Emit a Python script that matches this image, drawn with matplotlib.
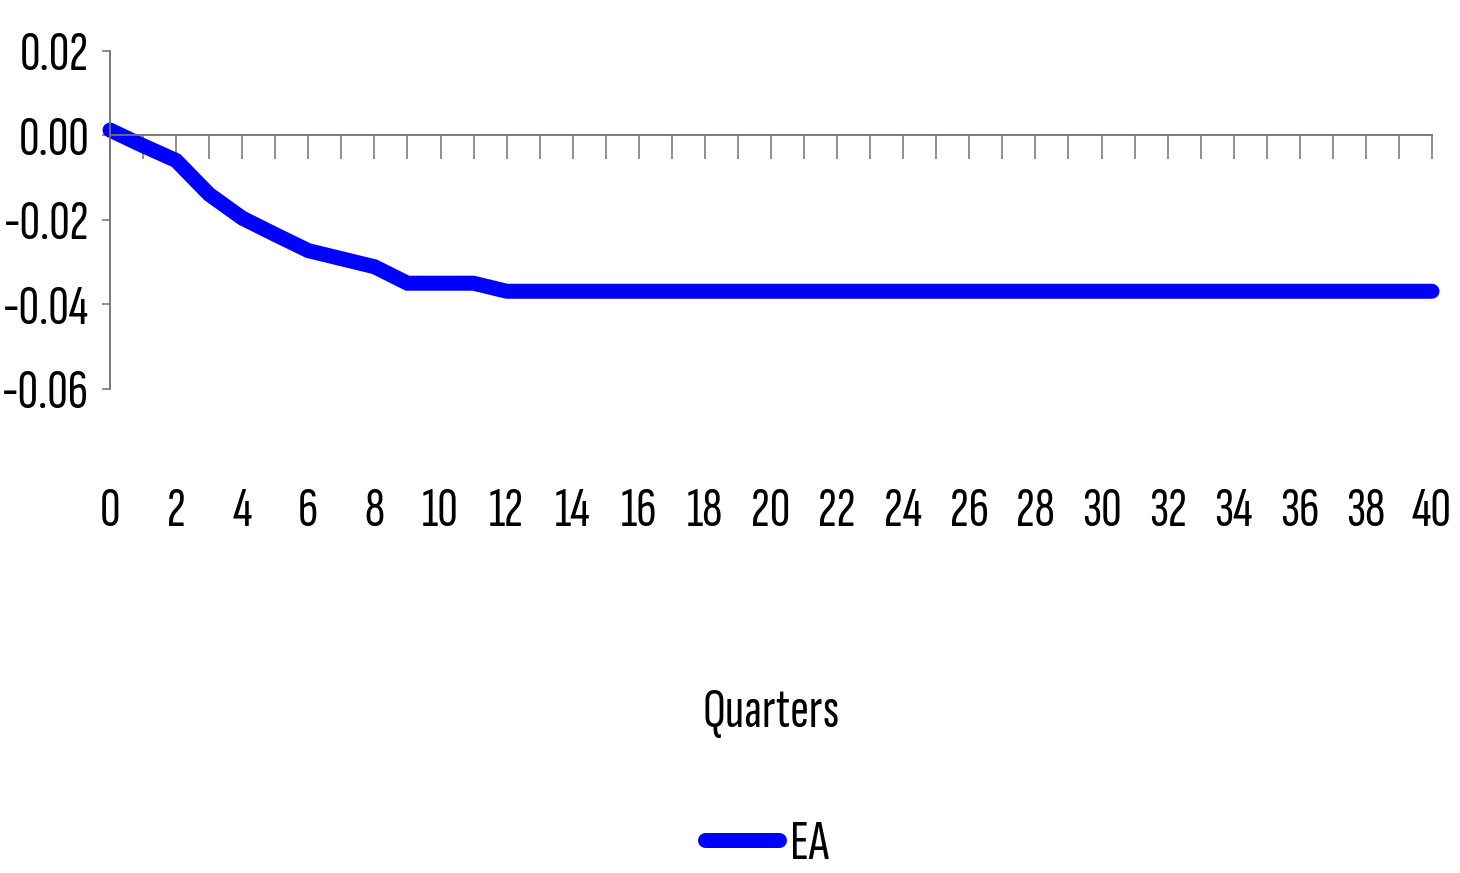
import numpy as np
import matplotlib
matplotlib.use('Agg')
import matplotlib.pyplot as plt

# Data
#._____________________

quarters = list(range(0, 41))
ea = [0.0012, -0.0025, -0.0060, -0.0140, -0.0196, -0.0235, -0.0273, -0.0292,
      -0.0311, -0.0350, -0.0350, -0.0350] + [-0.0369] * 29
yticks = [-0.06, -0.04, -0.02, 0.00, 0.02]
xlabels = [str(q) if q % 2 == 0 else '' for q in quarters]

# Style
#._____________________

plt.rcParams['font.family'] = ['Sofia Sans Extra Condensed', 'DejaVu Sans']
fs = 41
axcol = '#707070'

fig = plt.figure(figsize=(14.6, 8.73), dpi=100)
ax = fig.add_axes([110/1460, 1-389/873, (1432-110)/1460, (389-50.5)/873])

ax.plot(quarters, ea, color='#0000ff', lw=10.8, solid_capstyle='round',
        solid_joinstyle='miter', label='EA', clip_on=False)

ax.set_xlim(0, 40)
ax.set_ylim(-0.06, 0.02)

for s in ['top', 'right']:
    ax.spines[s].set_visible(False)
ax.spines['bottom'].set_position(('data', 0))
ax.spines['bottom'].set_color(axcol)
ax.spines['left'].set_color(axcol)
ax.spines['bottom'].set_linewidth(1.3)
ax.spines['left'].set_linewidth(1.3)

ax.set_xticks(quarters)
ax.set_xticklabels(xlabels)
ax.set_yticks(yticks)
ax.set_yticklabels([F"{v:.2f}" for v in yticks])
ax.tick_params(axis='x', direction='out', length=17, width=1.1, color=axcol,
               labelsize=fs, pad=236)
ax.tick_params(axis='y', direction='out', length=6, width=1.1, color=axcol,
               labelsize=fs, pad=9)

fig.text(771/1460, 1-713/873, 'Quarters', ha='center', va='center', fontsize=fs)

fig.legend(loc='center', bbox_to_anchor=(767/1460, 1-845/873), frameon=False,
           fontsize=fs, handlelength=1.3, handletextpad=0.2)

fig.savefig('out.png', dpi=100)
